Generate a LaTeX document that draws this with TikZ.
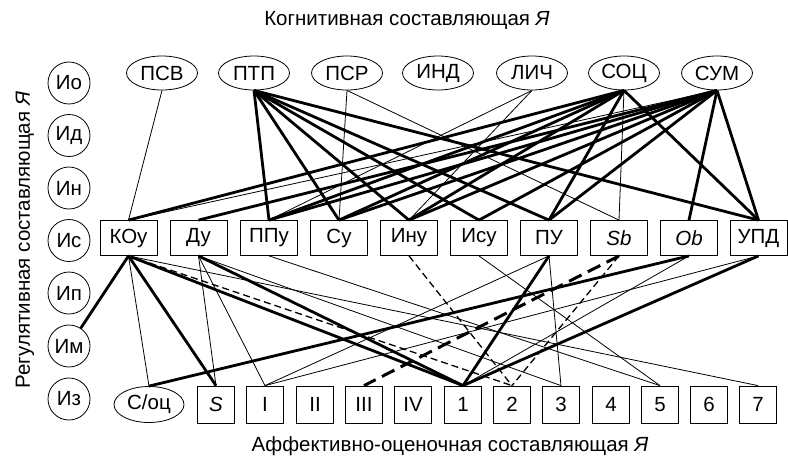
\documentclass[tikz,border=0pt]{standalone}
\usepackage{fontspec}
\setmainfont{Liberation Sans}
\usetikzlibrary{shapes.geometric}
\begin{document}
\begin{tikzpicture}[x=1pt,y=-1pt,
  every node/.style={font=\fontsize{20.5}{24}\selectfont, inner sep=0pt},
  topel/.style={draw, ellipse, minimum width=71pt, minimum height=34pt, line width=0.8pt},
  lcirc/.style={draw, circle, minimum size=42pt, line width=0.8pt},
  midbox/.style={draw, rectangle, minimum width=57pt, minimum height=35pt, line width=0.8pt},
  botbox/.style={draw, rectangle, minimum width=37pt, minimum height=37pt, line width=0.8pt},
  thinl/.style={line width=0.8pt},
  thickl/.style={line width=2.8pt},
  dashthin/.style={line width=1.3pt, dash pattern=on 7pt off 4pt},
  dashthick/.style={line width=3pt, dash pattern=on 14pt off 7pt}
]
\useasboundingbox (0,0) rectangle (788,459);
% titles
\node (t1) at (407,20) {Когнитивная составляющая \textit{Я}};
\node (t2) at (450,446) {Аффективно-оценочная составляющая \textit{Я}};
\node[rotate=90] (t3) at (25,240) {Регулятивная составляющая \textit{Я}};
% top ellipses
\node[topel] (psv) at (162,73) {ПСВ};
\node[topel] (ptp) at (254,73) {ПТП};
\node[topel] (psr) at (347,73) {ПСР};
\node[topel] (ind) at (438,73) {ИНД};
\node[topel] (lich) at (532,73) {ЛИЧ};
\node[topel] (soc) at (624,73) {СОЦ};
\node[topel] (sum) at (717,73) {СУМ};
% left circles
\node[lcirc] (io) at (69,83) {Ио};
\node[lcirc] (id) at (69,135.5) {Ид};
\node[lcirc] (in) at (69,188) {Ин};
\node[lcirc] (is) at (69,240.5) {Ис};
\node[lcirc] (ip) at (69,293) {Ип};
\node[lcirc] (im) at (69,346) {Им};
\node[lcirc] (iz) at (69,399) {Из};
% middle boxes
\node[midbox] (kou) at (128.5,238) {КОу};
\node[midbox] (du) at (198.5,238) {Ду};
\node[midbox] (ppu) at (269,238) {ППу};
\node[midbox] (su) at (339,238) {Су};
\node[midbox] (inu) at (409,238) {Ину};
\node[midbox] (isu) at (479,238) {Ису};
\node[midbox] (pu) at (549,238) {ПУ};
\node[midbox] (sb) at (619,238) {\textit{Sb}};
\node[midbox] (ob) at (689,238) {\textit{Ob}};
\node[midbox] (upd) at (758.5,238) {УПД};
% bottom row
\node[draw, ellipse, minimum width=70pt, minimum height=36pt, line width=0.8pt] (soc2) at (149,404.5) {С/оц};
\node[botbox] (bs) at (216,404.5) {\textit{S}};
\node[botbox] (b1r) at (265,404.5) {I};
\node[botbox] (b2r) at (315,404.5) {II};
\node[botbox] (b3r) at (364,404.5) {III};
\node[botbox] (b4r) at (413,404.5) {IV};
\node[botbox] (n1) at (463,404.5) {1};
\node[botbox] (n2) at (512,404.5) {2};
\node[botbox] (n3) at (561,404.5) {3};
\node[botbox] (n4) at (611,404.5) {4};
\node[botbox] (n5) at (660,404.5) {5};
\node[botbox] (n6) at (709,404.5) {6};
\node[botbox] (n7) at (758,404.5) {7};
% ---- upper connections
\draw[thinl] (psv.south) -- (kou.north);
\draw[thinl] (psr.south) -- (su.north);
\draw[thinl] (psr.south) -- (sb.north);
\draw[thinl] (lich.south) -- (inu.north);
\draw[thinl] (lich.south) -- (ppu.north);
\draw[thinl] (soc.south) -- (sb.north);
\draw[thinl] (sum.south) -- (kou.north);
\foreach \t in {ppu,su,inu,isu,pu,upd} \draw[thickl] (ptp.south) -- (\t.north);
\foreach \t in {kou,ppu,su,inu,pu,upd} \draw[thickl] (soc.south) -- (\t.north);
\foreach \t in {du,ppu,su,inu,isu,pu,ob,upd} \draw[thickl] (sum.south) -- (\t.north);
% ---- lower connections
\draw[thickl] (kou.south) -- (im);
\draw[thinl] (kou.south) -- (soc2.north);
\draw[thickl] (kou.south) -- (bs.north);
\draw[thickl] (kou.south) -- (n1.north);
\draw[dashthin] (kou.south) -- (n2.north);
\draw[thinl] (kou.south) -- (n7.north);
\draw[thinl] (du.south) -- (bs.north);
\draw[thinl] (du.south) -- (b1r.north);
\draw[thickl] (du.south) -- (n1.north);
\draw[thinl] (du.south) -- (n3.north);
\draw[thinl] (ppu.south) -- (n5.north);
\draw[dashthin] (inu.south) -- (n2.north);
\draw[thinl] (isu.south) -- (n5.north);
\draw[thinl] (pu.south) -- (b1r.north);
\draw[thickl] (pu.south) -- (n1.north);
\draw[thinl] (pu.south) -- (n3.north);
\draw[dashthin] (sb.south) -- (n2.north);
\draw[dashthick] (sb.south) -- (b3r.north);
\draw[thickl] (ob.south) -- (soc2.north);
\draw[thinl] (ob.south) -- (n1.north);
\draw[thickl] (upd.south) -- (n1.north);
\draw[thinl] (upd.south) -- (b1r.north);
\end{tikzpicture}
\end{document}
